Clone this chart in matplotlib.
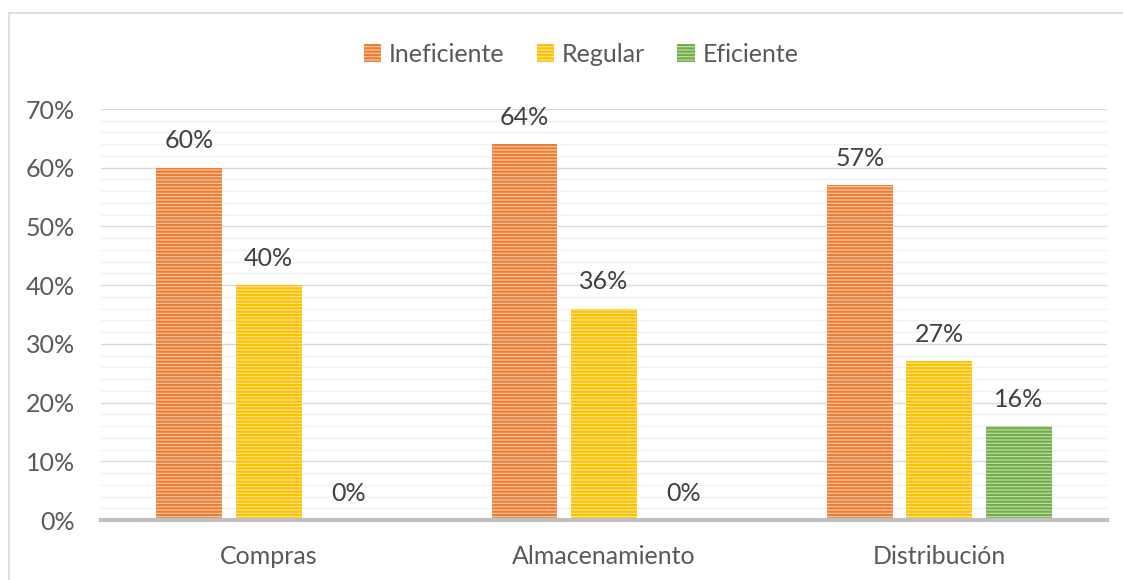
import numpy as np
import matplotlib.pyplot as plt
from matplotlib.patches import Rectangle
from matplotlib.ticker import MultipleLocator, PercentFormatter

categorias = ["Compras", "Almacenamiento", "Distribución"]
series = ["Ineficiente", "Regular", "Eficiente"]
ineficiente = [60, 64, 57]
regular = [40, 36, 27]
eficiente = [0, 0, 16]

base_cols = ["#ED7D31", "#FFC000", "#70AD47"]
light_cols = ["#F8CBAD", "#FFE699", "#C5E0B4"]
txt = "#595959"

plt.rcParams['font.family'] = ['Lato', 'DejaVu Sans']
plt.rcParams['hatch.linewidth'] = 1.6

fig = plt.figure(figsize=(11.23, 5.8), dpi=100)
ax = fig.add_axes([101/1123, 1 - 520/580, (1107-101)/1123, (520-109)/580])

# frame around chart area
fig.patches.append(Rectangle((9/1123, -0.05), 1.2, 1 - 13/580 + 0.05,
                             transform=fig.transFigure, fill=False,
                             edgecolor="#D9D9D9", linewidth=1.2))

x = np.arange(len(categorias))
w = 0.196
off = 0.237
for i, (vals, name) in enumerate(zip([ineficiente, regular, eficiente], series)):
    pos = x + (i - 1) * off
    ax.bar(pos, vals, width=w, color=light_cols[i], edgecolor=base_cols[i],
           linewidth=0, hatch='-----', label=name, zorder=3)
    for p, v in zip(pos, vals):
        ax.text(p, v + 2.6, f"{v}%", ha='center', va='bottom',
                fontsize=18, color="#404040")

ax.set_xlim(-0.5, 2.5)
ax.set_ylim(0, 70)
ax.yaxis.set_major_locator(MultipleLocator(10))
ax.yaxis.set_minor_locator(MultipleLocator(2))
ax.yaxis.set_major_formatter(PercentFormatter(decimals=0))
ax.set_xticks(x)
ax.set_xticklabels(categorias)
ax.grid(axis='y', which='major', color="#D9D9D9", linewidth=1, zorder=0)
ax.grid(axis='y', which='minor', color="#F2F2F2", linewidth=1, zorder=0)
ax.tick_params(axis='both', which='both', length=0, labelsize=18, labelcolor=txt)
ax.tick_params(axis='y', pad=19)
ax.tick_params(axis='x', pad=18)
for s in ['top', 'right', 'left']:
    ax.spines[s].set_visible(False)
ax.spines['bottom'].set_color("#BFBFBF")
ax.spines['bottom'].set_linewidth(3)
ax.spines['bottom'].set_zorder(4)

leg = ax.legend(loc='center', bbox_to_anchor=(581 / 1123, (580 - 54) / 580),
                bbox_transform=fig.transFigure, ncol=3, frameon=False,
                fontsize=18, handlelength=0.7, handleheight=0.7,
                handletextpad=0.3, columnspacing=1.3)
for t in leg.get_texts():
    t.set_color(txt)

fig.savefig("out.png", dpi=100)
